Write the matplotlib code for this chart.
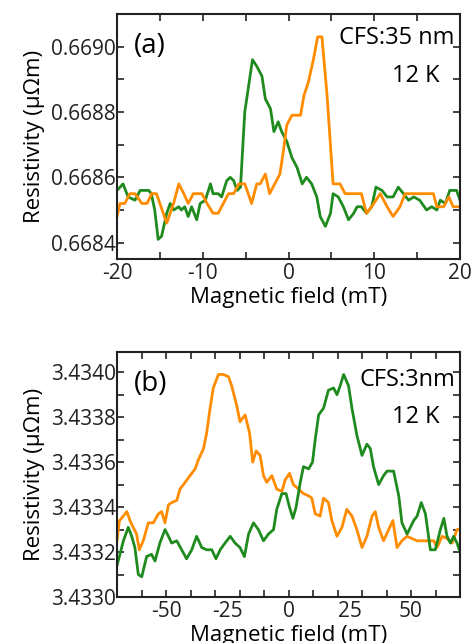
import matplotlib
matplotlib.use("Agg")
import matplotlib.pyplot as plt
from matplotlib.ticker import MultipleLocator, FixedLocator, FixedFormatter

plt.rcParams['font.family'] = ['Open Sans', 'DejaVu Sans']

GREEN = "#1f8b1f"
ORANGE = "#ff8c00"

# --- panel (a): CFS 35 nm ---
a_green_x = [-20, -19.3, -18.7, -17.9, -17.3, -16.3, -16.0, -15.6, -15.2, -14.8, -14.2, -13.8,
             -13.4, -12.8, -12.5, -12.1, -11.7, -11.3, -10.7, -10.3, -9.7, -9.1, -8.8, -8.2,
             -7.8, -7.2, -6.8, -6.4, -6.0, -5.6, -5.1, -4.2, -3.7, -3.1, -2.7, -2.1, -1.7,
             -1.2, -0.8, -0.2, 0.4, 1.0, 1.6, 2.1, 2.7, 3.3, 3.7, 4.3, 4.9, 5.2, 5.8, 6.4,
             7.0, 7.6, 8.0, 8.5, 9.1, 9.7, 10.2, 10.9, 11.5, 12.2, 12.8, 13.4, 14.0, 14.6,
             15.3, 16.1, 16.7, 17.3, 17.7, 18.3, 18.8, 19.6, 20]
a_green_y = [0.66856, 0.66858, 0.66854, 0.66853, 0.66856, 0.66856, 0.66855, 0.66850, 0.66841,
             0.66842, 0.66849, 0.66852, 0.66850, 0.66851, 0.66850, 0.66851, 0.66848, 0.66851,
             0.66847, 0.66852, 0.66853, 0.66858, 0.66855, 0.66855, 0.66854, 0.66859, 0.66860,
             0.66859, 0.66856, 0.66857, 0.66880, 0.66896, 0.66894, 0.66891, 0.66884, 0.66881,
             0.66874, 0.66877, 0.66874, 0.66871, 0.66866, 0.66863, 0.66858, 0.66860, 0.66858,
             0.66854, 0.66848, 0.66845, 0.66849, 0.66855, 0.66854, 0.66851, 0.66847, 0.66849,
             0.66851, 0.66851, 0.66849, 0.66851, 0.66857, 0.66856, 0.66854, 0.66854, 0.66857,
             0.66855, 0.66853, 0.66854, 0.66853, 0.66850, 0.66851, 0.66850, 0.66853, 0.66852,
             0.66856, 0.66856, 0.66853]

a_orange_x = [-20, -19.65, -19.1, -18.5, -17.9, -17.1, -16.5, -15.95, -15.4, -14.2, -13.4,
              -12.8, -12.2, -11.7, -11.1, -10.1, -9.5, -8.8, -8.2, -7.6, -7.0, -6.4, -5.8,
              -5.1, -4.3, -3.7, -3.3, -2.7, -2.2, -1.6, -1.0, -0.6, -0.2, 0.4, 1.4, 1.8, 2.3,
              2.9, 3.4, 3.9, 4.5, 5.2, 6.0, 6.6, 8.0, 8.5, 9.1, 9.7, 10.7, 11.5, 12.2, 13.0,
              13.6, 16.9, 17.3, 18.1, 18.7, 19.2, 20]
a_orange_y = [0.66848, 0.66852, 0.66852, 0.66855, 0.66855, 0.66852, 0.66852, 0.66855, 0.66855,
              0.66846, 0.66852, 0.66858, 0.66855, 0.66852, 0.66855, 0.66855, 0.66852, 0.66849,
              0.66849, 0.66852, 0.66855, 0.66855, 0.66858, 0.66858, 0.66852, 0.66858, 0.66858,
              0.66861, 0.66855, 0.66858, 0.66861, 0.66868, 0.66876, 0.66879, 0.66879, 0.66885,
              0.66889, 0.66896, 0.66903, 0.66903, 0.66885, 0.66858, 0.66858, 0.66855, 0.66855,
              0.66855, 0.66849, 0.66851, 0.66855, 0.66851, 0.66848, 0.66851, 0.66855, 0.66855,
              0.66851, 0.66851, 0.66854, 0.66851, 0.66851]

# --- panel (b): CFS 3 nm ---
b_orange_x = [-70, -69, -67.4, -66, -64.7, -63.4, -62, -60.9, -59.3, -57.2, -55.2, -53.1,
              -51.8, -50.4, -49, -47.7, -45.6, -44.3, -42.2, -40.2, -38.1, -36.8, -34.7,
              -33.4, -32, -30.7, -28.6, -26.6, -24.5, -23.2, -21.1, -19.8, -17.7, -15.9,
              -14.6, -13.2, -11.6, -10.2, -8.9, -6.8, -4.8, -2.7, -1.4, 0.4, 2.0, 4.1, 6.1,
              8.2, 9.5, 10.9, 12.9, 14.3, 16.3, 17.7, 19.8, 21.8, 23.8, 25.9, 27.9, 30.0,
              32.0, 34.1, 35.4, 36.8, 38.8, 40.9, 42.6, 44.3, 46.3, 48.4, 50.4, 52.5, 56.5,
              59.3, 60.6, 62.7, 64.7, 66.8, 68.8, 70]
b_orange_y = [3.43325, 3.43334, 3.43336, 3.43338, 3.43334, 3.43331, 3.43328, 3.43321, 3.43325,
              3.43333, 3.43333, 3.43337, 3.43338, 3.43333, 3.43341, 3.43342, 3.43343, 3.43348,
              3.43351, 3.43354, 3.43357, 3.43361, 3.43366, 3.43373, 3.43384, 3.43393, 3.43399,
              3.43399, 3.43398, 3.43394, 3.43385, 3.43378, 3.43381, 3.43373, 3.43360, 3.43365,
              3.43363, 3.43354, 3.43351, 3.43354, 3.43348, 3.43347, 3.43352, 3.43355, 3.43350,
              3.43348, 3.43346, 3.43345, 3.43344, 3.43337, 3.43336, 3.43344, 3.43342, 3.43334,
              3.43327, 3.43331, 3.43339, 3.43336, 3.43330, 3.43322, 3.43327, 3.43336, 3.43338,
              3.43331, 3.43325, 3.43330, 3.43334, 3.43322, 3.43325, 3.43327, 3.43326, 3.43325,
              3.43325, 3.43325, 3.43322, 3.43327, 3.43326, 3.43324, 3.43330, 3.43330]

b_green_x = [-70, -68.8, -67.4, -65.4, -64, -62.7, -61.3, -59.9, -57.9, -55.9, -54.5, -52.5,
             -50.4, -49, -47.7, -45.6, -43.6, -41.6, -39.5, -37.5, -35.4, -33.4, -31.3, -29.6,
             -27.9, -25.9, -23.8, -21.8, -19.8, -18, -16.3, -14.3, -12.3, -10.2, -8.2, -6.1,
             -4.8, -2.7, -1.0, 0.4, 1.8, 3.1, 4.8, 6.1, 8.2, 9.8, 10.9, 12.3, 14.3, 16.3, 18.4,
             19.8, 21.1, 22.5, 24.5, 25.9, 27.9, 30.0, 32.0, 33.4, 34.7, 36.8, 38.8, 40.2,
             42.9, 45.0, 46.3, 48.4, 51.1, 52.5, 54.2, 55.9, 57.9, 59.9, 62.0, 63.4, 64.7,
             66.1, 67.4, 68.8, 70]
b_green_y = [3.43314, 3.43319, 3.43325, 3.43331, 3.43327, 3.43322, 3.43310, 3.43309, 3.43318,
             3.43319, 3.43316, 3.43324, 3.43330, 3.43327, 3.43324, 3.43325, 3.43321, 3.43317,
             3.43321, 3.43327, 3.43322, 3.43321, 3.43321, 3.43317, 3.43321, 3.43324, 3.43327,
             3.43324, 3.43322, 3.43318, 3.43328, 3.43333, 3.43330, 3.43325, 3.43328, 3.43330,
             3.43339, 3.43346, 3.43346, 3.43340, 3.43335, 3.43340, 3.43351, 3.43358, 3.43357,
             3.43360, 3.43370, 3.43381, 3.43384, 3.43392, 3.43393, 3.43390, 3.43394, 3.43399,
             3.43394, 3.43384, 3.43372, 3.43363, 3.43368, 3.43366, 3.43358, 3.43350, 3.43354,
             3.43356, 3.43356, 3.43345, 3.43333, 3.43328, 3.43334, 3.43336, 3.43342, 3.43337,
             3.43321, 3.43321, 3.43330, 3.43335, 3.43327, 3.43324, 3.43327, 3.43324, 3.43320]

a_xticks = [-20, -10, 0, 10, 20]
a_yticks = [0.6684, 0.6686, 0.6688, 0.6690]
b_xticks = [-50, -25, 0, 25, 50]
b_yticks = [3.4330, 3.4332, 3.4334, 3.4336, 3.4338, 3.4340]

fig = plt.figure(figsize=(4.74, 6.43), dpi=100)
ax1 = fig.add_axes([117/474, 1-259/643, 343/474, 245/643])
ax2 = fig.add_axes([117/474, 1-597/643, 343/474, 245/643])

TICK_FS = 15
LABEL_FS = 16

def style(ax):
    for s in ax.spines.values():
        s.set_linewidth(1.5)
        s.set_color("#222222")
    ax.tick_params(which="both", direction="in", top=True, right=True,
                   labelsize=TICK_FS, width=1.2, colors="#222222")
    ax.tick_params(which="major", length=5)
    ax.tick_params(which="minor", length=5)
    ax.tick_params(axis="y", pad=1)
    ax.tick_params(axis="x", pad=3)
    ax.set_ylabel("Resistivity (\u00b5\u03a9m)", fontsize=LABEL_FS, labelpad=4)
    ax.set_xlabel("Magnetic field (mT)", fontsize=LABEL_FS, labelpad=2)

# panel (a)
ax1.plot(a_green_x, a_green_y, color=GREEN, lw=2)
ax1.plot(a_orange_x, a_orange_y, color=ORANGE, lw=2)
ax1.set_xlim(-20, 20)
ax1.set_ylim(0.66835, 0.66910)
ax1.set_xticks(a_xticks)
ax1.set_xticklabels([str(v) for v in a_xticks])
ax1.xaxis.set_minor_locator(MultipleLocator(5))
ax1.set_yticks(a_yticks)
ax1.set_yticklabels(["%.4f" % v for v in a_yticks])
ax1.yaxis.set_minor_locator(MultipleLocator(0.0001))
style(ax1)
ax1.text(0.05, 0.87, "(a)", transform=ax1.transAxes, fontsize=20, va="center")
ax1.text(0.985, 0.90, "CFS:35 nm", transform=ax1.transAxes, fontsize=17,
         ha="right", va="center")
ax1.text(0.94, 0.745, "12 K", transform=ax1.transAxes, fontsize=17,
         ha="right", va="center")

# panel (b)
ax2.plot(b_orange_x, b_orange_y, color=ORANGE, lw=2)
ax2.plot(b_green_x, b_green_y, color=GREEN, lw=2)
ax2.set_xlim(-70, 70)
ax2.set_ylim(3.4330, 3.43409)
ax2.xaxis.set_major_locator(FixedLocator(b_xticks))
ax2.xaxis.set_major_formatter(FixedFormatter([str(v) for v in b_xticks]))
ax2.xaxis.set_minor_locator(MultipleLocator(10))
ax2.xaxis.remove_overlapping_locs = False
ax2.set_yticks(b_yticks)
ax2.set_yticklabels(["%.4f" % v for v in b_yticks])
ax2.yaxis.set_minor_locator(MultipleLocator(0.0001))
style(ax2)
ax2.tick_params(axis="x", which="major", length=0)
ax2.text(0.05, 0.87, "(b)", transform=ax2.transAxes, fontsize=20, va="center")
ax2.text(0.985, 0.885, "CFS:3nm", transform=ax2.transAxes, fontsize=17,
         ha="right", va="center")
ax2.text(0.94, 0.735, "12 K", transform=ax2.transAxes, fontsize=17,
         ha="right", va="center")

fig.savefig("out.png", dpi=100)
